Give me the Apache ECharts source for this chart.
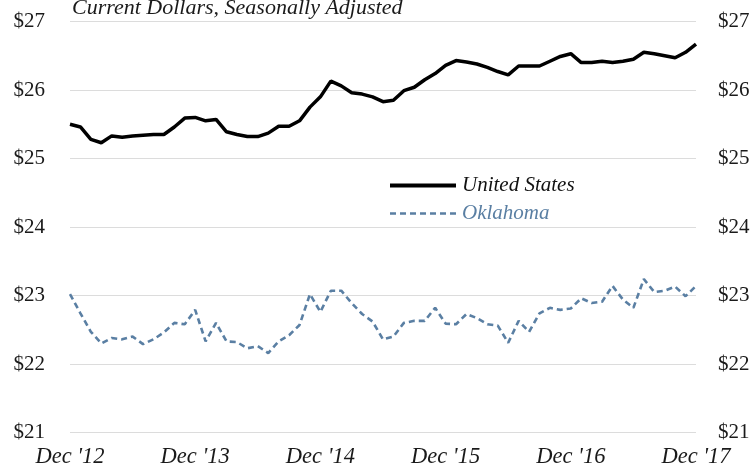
<!DOCTYPE html>
<html><head><meta charset="utf-8">
<script src="https://cdn.jsdelivr.net/npm/echarts@6/dist/echarts.min.js"></script>
<style>html,body{margin:0;padding:0;background:#fff}#c{width:755px;height:474px}</style>
</head><body><div id="c"></div>
<script>
var categories = ["Dec '12","Jan '13","Feb '13","Mar '13","Apr '13","May '13","Jun '13","Jul '13","Aug '13","Sep '13","Oct '13","Nov '13",
"Dec '13","Jan '14","Feb '14","Mar '14","Apr '14","May '14","Jun '14","Jul '14","Aug '14","Sep '14","Oct '14","Nov '14",
"Dec '14","Jan '15","Feb '15","Mar '15","Apr '15","May '15","Jun '15","Jul '15","Aug '15","Sep '15","Oct '15","Nov '15",
"Dec '15","Jan '16","Feb '16","Mar '16","Apr '16","May '16","Jun '16","Jul '16","Aug '16","Sep '16","Oct '16","Nov '16",
"Dec '16","Jan '17","Feb '17","Mar '17","Apr '17","May '17","Jun '17","Jul '17","Aug '17","Sep '17","Oct '17","Nov '17",
"Dec '17"];
var unitedStates = [25.50,25.46,25.28,25.23,25.33,25.31,25.33,25.34,25.35,25.35,25.46,25.59,
25.60,25.55,25.57,25.39,25.35,25.32,25.32,25.37,25.47,25.47,25.55,25.75,
25.90,26.13,26.06,25.96,25.94,25.90,25.83,25.85,25.99,26.04,26.15,26.24,
26.36,26.43,26.41,26.38,26.33,26.27,26.22,26.35,26.35,26.35,26.42,26.49,
26.53,26.40,26.40,26.42,26.40,26.42,26.45,26.55,26.53,26.50,26.47,26.55,
26.67];
var oklahoma = [23.02,22.74,22.47,22.30,22.38,22.36,22.40,22.29,22.36,22.46,22.60,22.58,
22.79,22.33,22.60,22.33,22.32,22.23,22.26,22.16,22.33,22.42,22.57,23.02,
22.76,23.07,23.07,22.89,22.73,22.62,22.36,22.40,22.60,22.63,22.63,22.82,
22.59,22.58,22.73,22.67,22.58,22.56,22.31,22.63,22.47,22.74,22.82,22.79,
22.81,22.96,22.89,22.91,23.14,22.94,22.82,23.24,23.05,23.07,23.13,22.99,
23.14];
var yTicks = [21,22,23,24,25,26,27];
var titleText = 'Current Dollars, Seasonally Adjusted';

var serif = "'Liberation Serif', 'DejaVu Serif', serif";
var okColor = '#5a7fa3';
var dashIcon = 'path://M0,0h6v2.5h-6zM10,0h6v2.5h-6zM20,0h6v2.5h-6zM30,0h6v2.5h-6zM40,0h6v2.5h-6zM50,0h6v2.5h-6zM60,0h6v2.5h-6z';
var chart = echarts.init(document.getElementById('c'), null, {renderer:'canvas'});
function yAxis(pos, margin){
  return {
    type:'value', position:pos, min:yTicks[0], max:yTicks[yTicks.length-1], interval:1,
    axisLine:{show:false}, axisTick:{show:false},
    splitLine:{show: pos==='left', lineStyle:{color:'#dcdcdc', width:1.2}},
    axisLabel:{formatter:function(v){return '$'+v;}, color:'#1a1a1a', fontFamily:serif, fontSize:21, margin:margin}
  };
}
chart.setOption({
  animation:false,
  backgroundColor:'#fff',
  title:{text:titleText, left:67, top:-8,
    textStyle:{fontFamily:serif, fontStyle:'italic', fontWeight:'normal', fontSize:22, color:'#1a1a1a'}},
  legend:{
    orient:'vertical', left:385, top:170, itemWidth:66, itemHeight:4, itemGap:7,
    textStyle:{fontFamily:serif, fontStyle:'italic', fontSize:21, padding:[0,0,0,1]},
    data:[{name:'United States', icon:'rect', textStyle:{color:'#111'}},
          {name:'Oklahoma', icon:dashIcon, textStyle:{color:okColor}}]
  },
  grid:{left:70, right:59, top:21.5, bottom:41.5, containLabel:false},
  xAxis:{type:'category', data:categories, boundaryGap:false,
    axisLine:{show:false}, axisTick:{show:false},
    axisLabel:{interval:11, color:'#1a1a1a', fontFamily:serif, fontStyle:'italic', fontSize:22.5, margin:13}
  },
  yAxis:[yAxis('left',25), yAxis('right',22)],
  series:[
    {name:'United States', type:'line', data:unitedStates, symbol:'none',
      lineStyle:{color:'#000', width:3.5}, itemStyle:{color:'#000'}},
    {name:'Oklahoma', type:'line', data:oklahoma, symbol:'none',
      lineStyle:{color:okColor, width:2.6, type:[6,4]}, itemStyle:{color:okColor}}
  ]
});
</script></body></html>
